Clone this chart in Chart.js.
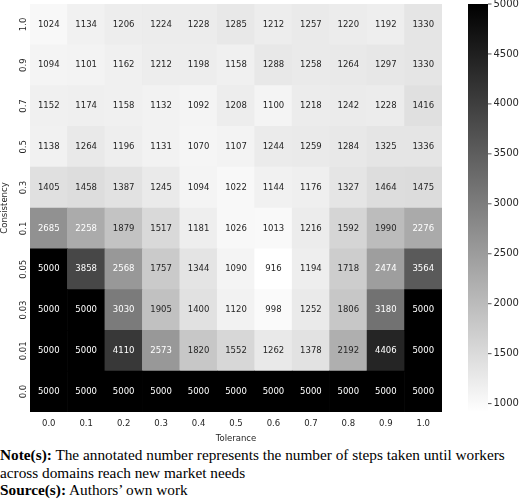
<!DOCTYPE html>
<html>
<head>
<meta charset="utf-8">
<script src="https://cdn.jsdelivr.net/npm/chart.js@4/dist/chart.umd.min.js"></script>
<style>
  html, body { margin: 0; padding: 0; background: #fff; width: 520px; height: 502px; overflow: hidden; }
  #wrap { position: relative; width: 520px; height: 502px; }
  #c { position: absolute; left: 0; top: 0; }
  #notes { position: absolute; left: 0; top: 446px; font-family: "Liberation Serif", "Times New Roman", serif; font-size: 15.3px; line-height: 17.5px; color: #000; white-space: nowrap; }
</style>
</head>
<body>
<div id="wrap">
  <canvas id="c" width="520" height="445"></canvas>
  <div id="notes"><b>Note(s):</b> The annotated number represents the number of steps taken until workers<br>across domains reach new market needs<br><b>Source(s):</b> Authors’ own work</div>
</div>
<script>
// ---- data ----
const tolerance = ['0.0','0.1','0.2','0.3','0.4','0.5','0.6','0.7','0.8','0.9','1.0'];
const consistency = ['1.0','0.9','0.7','0.5','0.3','0.1','0.05','0.03','0.01','0.0']; // top to bottom
const row_1_0  = [1024,1134,1206,1224,1228,1285,1212,1257,1220,1192,1330];
const row_0_9  = [1094,1101,1162,1212,1198,1158,1288,1258,1264,1297,1330];
const row_0_7  = [1152,1174,1158,1132,1092,1208,1100,1218,1242,1228,1416];
const row_0_5  = [1138,1264,1196,1131,1070,1107,1244,1259,1284,1325,1336];
const row_0_3  = [1405,1458,1387,1245,1094,1022,1144,1176,1327,1464,1475];
const row_0_1  = [2685,2258,1879,1517,1181,1026,1013,1216,1592,1990,2276];
const row_0_05 = [5000,3858,2568,1757,1344,1090,916,1194,1718,2474,3564];
const row_0_03 = [5000,5000,3030,1905,1400,1120,998,1252,1806,3180,5000];
const row_0_01 = [5000,5000,4110,2573,1820,1552,1262,1378,2192,4406,5000];
const row_0_0  = [5000,5000,5000,5000,5000,5000,5000,5000,5000,5000,5000];
const colorbarTicks = [1000,1500,2000,2500,3000,3500,4000,4500,5000];

const rowsTopDown = [row_1_0,row_0_9,row_0_7,row_0_5,row_0_3,row_0_1,row_0_05,row_0_03,row_0_01,row_0_0];
const rowsBottomUp = rowsTopDown.slice().reverse();
const allVals = rowsTopDown.flat();
const vmin = Math.min(...allVals);
const vmax = Math.max(...allVals);
const nRows = consistency.length;

function grayOf(v) {
  const t = (v - vmin) / (vmax - vmin);
  return Math.round(255 * (1 - t));
}
function colorOf(v) { const g = grayOf(v); return `rgb(${g},${g},${g})`; }
function textColorOf(v) {
  const c = grayOf(v) / 255;
  const lin = c <= 0.03928 ? c / 12.92 : Math.pow((c + 0.055) / 1.055, 2.4);
  return lin > 0.408 ? '#262626' : '#ffffff';
}

const TXT = '#262626';
const FONT = 'DejaVu Sans';

const datasets = rowsBottomUp.map((row, k) => ({
  label: consistency[nRows - 1 - k],
  data: row.map(() => 1),
  values: row,
  backgroundColor: row.map(colorOf),
  borderWidth: 0,
  barPercentage: 1,
  categoryPercentage: 1,
  stack: 's'
}));

const annotate = {
  id: 'annotate',
  afterDatasetsDraw(chart) {
    const ctx = chart.ctx;
    ctx.save();
    ctx.font = `8.5px "${FONT}"`;
    ctx.textAlign = 'center';
    ctx.textBaseline = 'middle';
    chart.data.datasets.forEach((ds, k) => {
      const meta = chart.getDatasetMeta(k);
      meta.data.forEach((bar, j) => {
        const v = ds.values[j];
        ctx.fillStyle = textColorOf(v);
        ctx.fillText(String(v), bar.x, (bar.y + bar.base) / 2);
      });
    });
    ctx.restore();
  }
};

const colorbar = {
  id: 'colorbar',
  afterDraw(chart) {
    const s = chart.scales.cb;
    const ctx = chart.ctx;
    const x0 = 468, x1 = 488;
    const yTop = s.getPixelForValue(vmax);
    const yBot = s.getPixelForValue(vmin);
    const g = ctx.createLinearGradient(0, yTop, 0, yBot);
    g.addColorStop(0, colorOf(vmax));
    g.addColorStop(1, colorOf(vmin));
    ctx.save();
    ctx.fillStyle = g;
    ctx.fillRect(x0, yTop, x1 - x0, yBot - yTop);
    ctx.strokeStyle = TXT;
    ctx.lineWidth = 0.8;
    ctx.fillStyle = TXT;
    ctx.font = `10px "${FONT}"`;
    ctx.textAlign = 'left';
    ctx.textBaseline = 'middle';
    colorbarTicks.forEach(t => {
      const y = s.getPixelForValue(t);
      ctx.beginPath();
      ctx.moveTo(x1, y);
      ctx.lineTo(x1 + 3.5, y);
      ctx.stroke();
      ctx.fillText(String(t), x1 + 5.5, y);
    });
    ctx.restore();
  }
};

new Chart(document.getElementById('c'), {
  type: 'bar',
  data: { labels: tolerance, datasets },
  options: {
    responsive: false,
    devicePixelRatio: 1,
    animation: false,
    layout: { padding: { top: 4, right: 78, left: 0, bottom: 0 } },
    plugins: { legend: { display: false }, tooltip: { enabled: false } },
    scales: {
      x: {
        stacked: true,
        grid: { display: false, drawTicks: false, tickLength: 0 },
        border: { display: false },
        ticks: { color: TXT, font: { family: FONT, size: 8.5 }, padding: 6.5, maxRotation: 0, autoSkip: false },
        title: { display: true, text: 'Tolerance', color: TXT, font: { family: FONT, size: 8.5 }, padding: { top: 0, bottom: 1 } },
        afterFit(s) { s.height = 33; }
      },
      y: {
        type: 'linear',
        stacked: true,
        min: 0,
        max: nRows,
        grid: { display: false, drawTicks: false, tickLength: 0 },
        border: { display: false },
        afterBuildTicks(s) { s.ticks = consistency.map((_, i) => ({ value: nRows - i - 0.5 })); },
        ticks: {
          color: TXT, font: { family: FONT, size: 8.5 }, padding: -3,
          minRotation: 90, maxRotation: 90, crossAlign: 'center',
          callback: (v) => consistency[Math.round(nRows - v - 0.5)]
        },
        title: { display: true, text: 'Consistency', color: TXT, font: { family: FONT, size: 8.5 }, padding: { top: 0, bottom: 0 } },
        afterFit(s) { s.width = 30; }
      },
      cb: {
        axis: 'y',
        type: 'linear',
        position: 'right',
        display: false,
        min: vmin,
        max: vmax
      }
    }
  },
  plugins: [annotate, colorbar]
});
</script>
</body>
</html>
